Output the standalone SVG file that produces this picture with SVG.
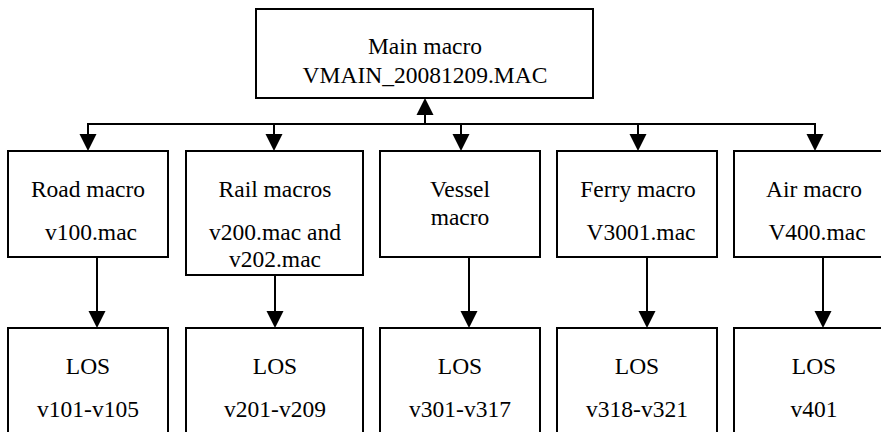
<svg xmlns="http://www.w3.org/2000/svg" width="881" height="432" viewBox="0 0 881 432">
<style>
.box{fill:#fff;stroke:#000;stroke-width:2}
.c{stroke:#000;stroke-width:2;fill:none}
.ah{fill:#000;stroke:none}
.t{font-family:"Liberation Serif","Times New Roman",serif;font-size:23.5px;text-anchor:middle;fill:#000}
</style>
<rect width="881" height="432" fill="#fff"/>
<g id="main"><rect class="box" x="256" y="9" width="337" height="89"/>
<text class="t" x="425" y="54">Main macro</text><text class="t" x="425" y="83">VMAIN_20081209.MAC</text></g>
<g id="road"><rect class="box" x="8" y="151" width="160" height="106"/>
<text class="t" x="88" y="197">Road macro</text><text class="t" x="91" y="240">v100.mac</text></g>
<g id="rail"><rect class="box" x="186" y="151" width="177" height="124"/>
<text class="t" x="275" y="197">Rail macros</text><text class="t" x="275" y="240">v200.mac and</text><text class="t" x="275" y="267">v202.mac</text></g>
<g id="vessel"><rect class="box" x="380" y="151" width="160" height="106"/>
<text class="t" x="460" y="197">Vessel</text><text class="t" x="460" y="225">macro</text></g>
<g id="ferry"><rect class="box" x="557" y="151" width="160" height="106"/>
<text class="t" x="638" y="197">Ferry macro</text><text class="t" x="641" y="240">V3001.mac</text></g>
<g id="air"><rect class="box" x="734" y="151" width="160" height="106"/>
<text class="t" x="814" y="197">Air macro</text><text class="t" x="817" y="240">V400.mac</text></g>
<g id="los1"><rect class="box" x="8" y="328" width="160" height="120"/>
<text class="t" x="88" y="374">LOS</text><text class="t" x="88" y="417">v101-v105</text></g>
<g id="los2"><rect class="box" x="186" y="328" width="177" height="120"/>
<text class="t" x="275" y="374">LOS</text><text class="t" x="275" y="417">v201-v209</text></g>
<g id="los3"><rect class="box" x="380" y="328" width="160" height="120"/>
<text class="t" x="460" y="374">LOS</text><text class="t" x="460" y="417">v301-v317</text></g>
<g id="los4"><rect class="box" x="557" y="328" width="160" height="120"/>
<text class="t" x="637" y="374">LOS</text><text class="t" x="637" y="417">v318-v321</text></g>
<g id="los5"><rect class="box" x="734" y="328" width="160" height="120"/>
<text class="t" x="814" y="374">LOS</text><text class="t" x="814" y="417">v401</text></g>
<g id="connectors">
<line class="c" x1="88" y1="124" x2="815" y2="124"/>
<line class="c" x1="425" y1="124" x2="425" y2="112"/>
<polygon class="ah" points="425,98 416.5,115 433.5,115"/>
<line class="c" x1="88" y1="123" x2="88" y2="136"/>
<polygon class="ah" points="88,151 79.5,134 96.5,134"/>
<line class="c" x1="274" y1="124" x2="274" y2="136"/>
<polygon class="ah" points="274,151 265.5,134 282.5,134"/>
<line class="c" x1="461" y1="124" x2="461" y2="136"/>
<polygon class="ah" points="461,151 452.5,134 469.5,134"/>
<line class="c" x1="638" y1="124" x2="638" y2="136"/>
<polygon class="ah" points="638,151 629.5,134 646.5,134"/>
<line class="c" x1="815" y1="123" x2="815" y2="136"/>
<polygon class="ah" points="815,151 806.5,134 823.5,134"/>
<line class="c" x1="97" y1="257" x2="97" y2="313"/>
<polygon class="ah" points="97,328 88.5,311 105.5,311"/>
<line class="c" x1="275" y1="275" x2="275" y2="313"/>
<polygon class="ah" points="275,328 266.5,311 283.5,311"/>
<line class="c" x1="469" y1="257" x2="469" y2="313"/>
<polygon class="ah" points="469,328 460.5,311 477.5,311"/>
<line class="c" x1="647" y1="257" x2="647" y2="313"/>
<polygon class="ah" points="647,328 638.5,311 655.5,311"/>
<line class="c" x1="823" y1="257" x2="823" y2="313"/>
<polygon class="ah" points="823,328 814.5,311 831.5,311"/>
</g>
</svg>
